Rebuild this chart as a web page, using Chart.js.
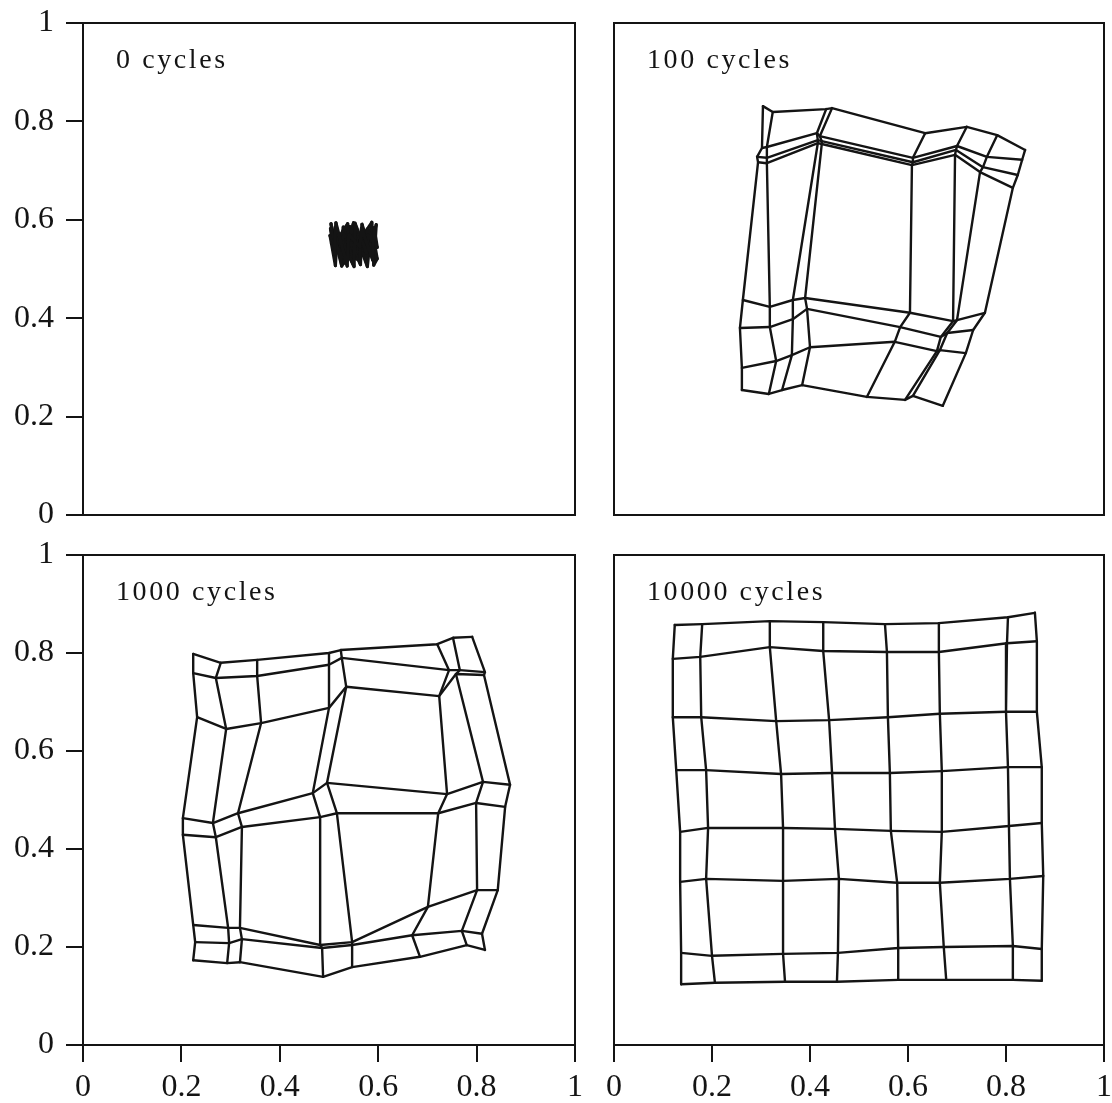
<!DOCTYPE html>
<html>
<head>
<meta charset="utf-8">
<script src="https://cdn.jsdelivr.net/npm/chart.js@4.4.1/dist/chart.umd.min.js"></script>
<style>
  html, body { margin: 0; padding: 0; background: #fff; }
  body { width: 1112px; height: 1103px; position: relative; overflow: hidden; }
  canvas { position: absolute; }
</style>
</head>
<body>
<canvas id="p0" width="585" height="525" style="left:0px;top:0px"></canvas>
<canvas id="p1" width="522" height="525" style="left:590px;top:0px"></canvas>
<canvas id="p2" width="595" height="573" style="left:0px;top:530px"></canvas>
<canvas id="p3" width="522" height="573" style="left:590px;top:530px"></canvas>
<script>
// Axis ticks shared by all four panels
const tickValues = [0, 0.2, 0.4, 0.6, 0.8, 1];
const tickLabels = ['0', '0.2', '0.4', '0.6', '0.8', '1'];
const panelTitles = ['0 cycles', '100 cycles', '1000 cycles', '10000 cycles'];

// 8x8 map: weight vectors of each node, one inner array per map row

// after 0 cycles (initial weights, all tangled in a small square)
const w0x = [
  [0.511, 0.514, 0.537, 0.540, 0.563, 0.566, 0.589, 0.590],
  [0.503, 0.525, 0.527, 0.551, 0.553, 0.577, 0.579, 0.598],
  [0.513, 0.516, 0.538, 0.539, 0.562, 0.565, 0.590, 0.592],
  [0.502, 0.524, 0.526, 0.550, 0.552, 0.576, 0.578, 0.597],
  [0.510, 0.513, 0.536, 0.541, 0.564, 0.567, 0.588, 0.589],
  [0.504, 0.526, 0.528, 0.549, 0.554, 0.575, 0.580, 0.598],
  [0.512, 0.515, 0.539, 0.542, 0.561, 0.564, 0.587, 0.591],
  [0.505, 0.523, 0.529, 0.548, 0.555, 0.578, 0.581, 0.596]
];
const w0y = [
  [0.531, 0.594, 0.506, 0.570, 0.545, 0.583, 0.518, 0.557],
  [0.582, 0.519, 0.556, 0.505, 0.593, 0.532, 0.569, 0.544],
  [0.507, 0.558, 0.592, 0.530, 0.517, 0.571, 0.543, 0.584],
  [0.568, 0.533, 0.508, 0.594, 0.555, 0.520, 0.581, 0.546],
  [0.542, 0.585, 0.516, 0.559, 0.509, 0.591, 0.529, 0.572],
  [0.592, 0.506, 0.572, 0.547, 0.580, 0.534, 0.554, 0.521],
  [0.516, 0.567, 0.541, 0.586, 0.528, 0.560, 0.595, 0.508],
  [0.553, 0.546, 0.585, 0.518, 0.566, 0.505, 0.535, 0.590]
];

// after 100 cycles
const w100x = [
  [0.304, 0.324, 0.433, 0.445, 0.635, 0.720, 0.782, 0.839],
  [0.302, 0.312, 0.414, 0.420, 0.610, 0.700, 0.761, 0.833],
  [0.292, 0.312, 0.416, 0.424, 0.610, 0.698, 0.753, 0.824],
  [0.294, 0.312, 0.416, 0.424, 0.608, 0.696, 0.747, 0.814],
  [0.263, 0.318, 0.365, 0.390, 0.604, 0.692, 0.700, 0.757],
  [0.257, 0.318, 0.365, 0.394, 0.584, 0.667, 0.680, 0.733],
  [0.261, 0.331, 0.363, 0.400, 0.573, 0.659, 0.665, 0.718],
  [0.261, 0.316, 0.343, 0.384, 0.516, 0.594, 0.610, 0.671]
];
const w100y = [
  [0.831, 0.819, 0.825, 0.827, 0.776, 0.789, 0.772, 0.742],
  [0.746, 0.748, 0.776, 0.770, 0.726, 0.750, 0.728, 0.722],
  [0.728, 0.726, 0.762, 0.760, 0.717, 0.742, 0.707, 0.691],
  [0.717, 0.715, 0.756, 0.754, 0.711, 0.732, 0.697, 0.665],
  [0.437, 0.423, 0.437, 0.441, 0.411, 0.394, 0.396, 0.411],
  [0.380, 0.382, 0.398, 0.419, 0.382, 0.362, 0.370, 0.376],
  [0.299, 0.313, 0.325, 0.341, 0.352, 0.333, 0.335, 0.329],
  [0.254, 0.246, 0.254, 0.264, 0.240, 0.234, 0.242, 0.222]
];

// after 1000 cycles
const w1000x = [
  [0.224, 0.280, 0.354, 0.500, 0.524, 0.720, 0.752, 0.791],
  [0.224, 0.270, 0.354, 0.500, 0.526, 0.744, 0.766, 0.817],
  [0.232, 0.291, 0.362, 0.500, 0.535, 0.724, 0.758, 0.815],
  [0.203, 0.264, 0.315, 0.467, 0.496, 0.740, 0.813, 0.868],
  [0.203, 0.270, 0.323, 0.482, 0.516, 0.722, 0.799, 0.858],
  [0.224, 0.295, 0.319, 0.482, 0.547, 0.701, 0.801, 0.843],
  [0.228, 0.297, 0.323, 0.486, 0.547, 0.669, 0.770, 0.811],
  [0.224, 0.293, 0.319, 0.488, 0.547, 0.685, 0.780, 0.817]
];
const w1000y = [
  [0.798, 0.780, 0.786, 0.800, 0.806, 0.818, 0.831, 0.833],
  [0.759, 0.749, 0.753, 0.776, 0.790, 0.765, 0.765, 0.761],
  [0.669, 0.645, 0.657, 0.688, 0.731, 0.712, 0.757, 0.755],
  [0.463, 0.453, 0.473, 0.514, 0.535, 0.512, 0.537, 0.531],
  [0.429, 0.424, 0.445, 0.465, 0.473, 0.473, 0.494, 0.486],
  [0.245, 0.239, 0.239, 0.204, 0.210, 0.282, 0.316, 0.316],
  [0.210, 0.208, 0.216, 0.198, 0.204, 0.224, 0.233, 0.227],
  [0.173, 0.167, 0.169, 0.139, 0.159, 0.180, 0.204, 0.194]
];

// after 10000 cycles
const w10000x = [
  [0.124, 0.180, 0.318, 0.427, 0.553, 0.663, 0.804, 0.859],
  [0.120, 0.176, 0.318, 0.427, 0.557, 0.663, 0.802, 0.863],
  [0.120, 0.178, 0.331, 0.439, 0.559, 0.665, 0.800, 0.863],
  [0.127, 0.188, 0.341, 0.445, 0.563, 0.669, 0.804, 0.873],
  [0.135, 0.192, 0.345, 0.451, 0.565, 0.669, 0.806, 0.873],
  [0.135, 0.188, 0.345, 0.459, 0.578, 0.665, 0.808, 0.876],
  [0.137, 0.200, 0.345, 0.457, 0.580, 0.673, 0.814, 0.873],
  [0.137, 0.206, 0.349, 0.455, 0.580, 0.678, 0.814, 0.873]
];
const w10000y = [
  [0.857, 0.859, 0.865, 0.863, 0.859, 0.861, 0.873, 0.882],
  [0.788, 0.792, 0.812, 0.804, 0.802, 0.802, 0.820, 0.824],
  [0.669, 0.669, 0.661, 0.663, 0.669, 0.676, 0.680, 0.680],
  [0.561, 0.561, 0.553, 0.555, 0.555, 0.559, 0.567, 0.567],
  [0.435, 0.443, 0.443, 0.441, 0.437, 0.435, 0.447, 0.453],
  [0.333, 0.339, 0.335, 0.339, 0.331, 0.331, 0.339, 0.345],
  [0.188, 0.182, 0.186, 0.188, 0.198, 0.200, 0.202, 0.196],
  [0.124, 0.127, 0.129, 0.129, 0.133, 0.133, 0.133, 0.131]
];

const INK = '#141414';
const FONT = '"Liberation Serif", "DejaVu Serif", serif';

// Every map row and every map column becomes one polyline
function meshDatasets(wx, wy, width) {
  const line = pts => ({
    data: pts, showLine: true, fill: false, tension: 0,
    borderColor: INK, borderWidth: width, borderJoinStyle: 'round', borderCapStyle: 'round',
    pointRadius: 0, pointHoverRadius: 0
  });
  const sets = [];
  for (let i = 0; i < wx.length; i++) {
    sets.push(line(wx[i].map((x, j) => ({ x, y: wy[i][j] }))));
  }
  for (let j = 0; j < wx[0].length; j++) {
    sets.push(line(wx.map((row, i) => ({ x: row[j], y: wy[i][j] }))));
  }
  return sets;
}

// Box around the plotting area and the panel caption inside it
const framePlugin = {
  id: 'frame',
  afterDatasetsDraw(chart, args, opts) {
    const { ctx, chartArea: a } = chart;
    ctx.save();
    ctx.strokeStyle = INK;
    ctx.lineWidth = 2;
    ctx.strokeRect(a.left, a.top, a.right - a.left, a.bottom - a.top);
    ctx.fillStyle = INK;
    ctx.font = '28px ' + FONT;
    ctx.textBaseline = 'alphabetic';
    ctx.textAlign = 'left';
    if ('letterSpacing' in ctx) ctx.letterSpacing = '2.6px';
    ctx.fillText(opts.text, a.left + 33, a.top + 45);
    ctx.restore();
  }
};

function axis(showTicks, fixedSize, isX) {
  return {
    type: 'linear', min: 0, max: 1,
    display: showTicks,
    afterBuildTicks: s => { s.ticks = tickValues.map(v => ({ value: v })); },
    afterFit: s => {
      if (showTicks) {
        if (isX) s.height = fixedSize; else s.width = fixedSize;
      }
      // the layout padding alone decides where the plotting area sits
      s.paddingTop = 0; s.paddingBottom = 0; s.paddingLeft = 0; s.paddingRight = 0;
    },
    border: { display: false },
    grid: {
      display: true, drawOnChartArea: false, drawTicks: true,
      tickLength: 17, color: INK, lineWidth: 2
    },
    ticks: {
      color: INK, padding: isX ? 6 : 12,
      font: { family: FONT, size: 32 },
      maxRotation: 0, autoSkip: false,
      callback: (v, i) => tickLabels[i]
    }
  };
}

function makePanel(id, wx, wy, title, showY, showX, padding, width) {
  new Chart(document.getElementById(id), {
    type: 'scatter',
    data: { datasets: meshDatasets(wx, wy, width) },
    options: {
      responsive: false, maintainAspectRatio: false, animation: false,
      devicePixelRatio: 1,
      layout: { padding },
      plugins: { legend: { display: false }, tooltip: { enabled: false }, frame: { text: title } },
      scales: {
        x: axis(showX, 58, true),
        y: axis(showY, 83, false)
      }
    },
    plugins: [framePlugin]
  });
}

makePanel('p0', w0x, w0y, panelTitles[0], true, false, { top: 23, right: 10, bottom: 10, left: 0 }, 3.2);
makePanel('p1', w100x, w100y, panelTitles[1], false, false, { top: 23, right: 8, bottom: 10, left: 24 }, 2.4);
makePanel('p2', w1000x, w1000y, panelTitles[2], true, true, { top: 25, right: 20, bottom: 0, left: 0 }, 2.4);
makePanel('p3', w10000x, w10000y, panelTitles[3], false, true, { top: 25, right: 8, bottom: 0, left: 24 }, 2.4);
</script>
</body>
</html>
